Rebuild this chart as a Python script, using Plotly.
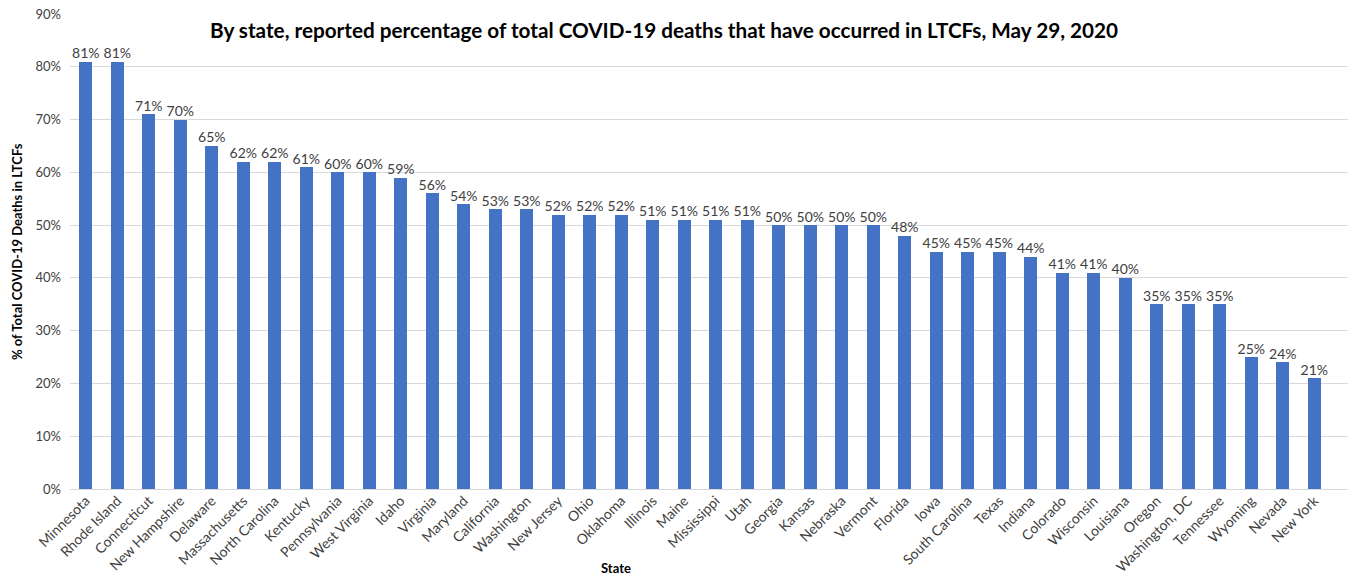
import plotly.graph_objects as go

states = ["Minnesota", "Rhode Island", "Connecticut", "New Hampshire", "Delaware",
          "Massachusetts", "North Carolina", "Kentucky", "Pennsylvania", "West Virginia",
          "Idaho", "Virginia", "Maryland", "California", "Washington", "New Jersey",
          "Ohio", "Oklahoma", "Illinois", "Maine", "Mississippi", "Utah", "Georgia",
          "Kansas", "Nebraska", "Vermont", "Florida", "Iowa", "South Carolina", "Texas",
          "Indiana", "Colorado", "Wisconsin", "Louisiana", "Oregon", "Washington, DC",
          "Tennessee", "Wyoming", "Nevada", "New York"]
pct_ltcf = [81, 81, 71, 70, 65, 62, 62, 61, 60, 60, 59, 56, 54, 53, 53, 52, 52, 52,
            51, 51, 51, 51, 50, 50, 50, 50, 48, 45, 45, 45, 44, 41, 41, 40, 35, 35,
            35, 25, 24, 21]
y_ticks = [0, 10, 20, 30, 40, 50, 60, 70, 80, 90]

FONT = "Lato"
W, H = 1351, 577
L, R, T, B = 70, 3, 14, 88
PW, PH = W - L - R, H - T - B

shares = [v / 100 for v in pct_ltcf]
labels = [f"{v}%" for v in pct_ltcf]

fig = go.Figure()
fig.add_trace(go.Bar(
    x=states,
    y=shares,
    marker=dict(color="#4472C4", line=dict(width=0)),
    width=0.41,
    hoverinfo="x+y",
))
# value labels sitting just above each bar
fig.add_trace(go.Scatter(
    x=states,
    y=shares,
    mode="text",
    text=labels,
    textposition="top center",
    textfont=dict(family=FONT, size=14, color="#404040"),
    cliponaxis=False,
    hoverinfo="skip",
))

fig.update_layout(
    width=W, height=H,
    margin=dict(l=L, r=R, t=T, b=B, autoexpand=False),
    paper_bgcolor="white", plot_bgcolor="white",
    showlegend=False,
    bargap=0,
    font=dict(family=FONT, color="#404040"),
    annotations=[
        dict(text="<b>By state, reported percentage of total COVID-19 deaths that have occurred in LTCFs, May 29, 2020</b>",
             xref="paper", yref="paper",
             x=(664 - L) / PW, y=1 - (30 - T) / PH,
             xanchor="center", yanchor="middle", showarrow=False,
             font=dict(family=FONT, size=20.7, color="#000000")),
        dict(text="<b>% of Total COVID-19 Deaths in LTCFs</b>",
             xref="paper", yref="paper",
             x=(17 - L) / PW, y=1 - (252 - T) / PH,
             xanchor="center", yanchor="middle", textangle=-90, showarrow=False,
             font=dict(family=FONT, size=13, color="#000000")),
        dict(text="<b>State</b>",
             xref="paper", yref="paper",
             x=(616 - L) / PW, y=-(568 - (H - B)) / PH,
             xanchor="center", yanchor="middle", showarrow=False,
             font=dict(family=FONT, size=13, color="#000000")),
    ],
)

fig.update_xaxes(
    range=[-0.5, 40.07],
    tickangle=-45,
    tickfont=dict(family=FONT, size=14, color="#404040"),
    showgrid=False, showline=False, ticks="",
)
fig.update_yaxes(
    range=[0, 0.9],
    tickvals=[t / 100 for t in y_ticks],
    ticktext=[f"{t}%" for t in y_ticks],
    tickfont=dict(family=FONT, size=13, color="#404040"),
    showgrid=True, gridcolor="#D9D9D9", gridwidth=1,
    zeroline=True, zerolinecolor="#D9D9D9", zerolinewidth=1,
    showline=False, ticks="", ticklabelstandoff=8,
)

fig.write_html("out.html")
